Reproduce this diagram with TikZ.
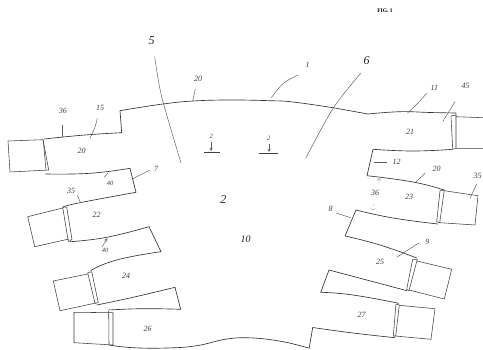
\documentclass[tikz,border=0pt]{standalone}
\usepackage{fontspec}
\setmainfont{Liberation Serif}
\tikzset{
  wall/.style={draw=black!80,line width=0.65pt,line join=round},
  box/.style={draw=black!75,line width=0.55pt,line join=round},
  lead/.style={draw=black!65,line width=0.45pt},
  faint/.style={draw=black!40,line width=0.4pt},
  hand/.style={inner sep=0pt,font=\itshape\fontsize{8}{8}\selectfont,text=black!75},
  big/.style={inner sep=0pt,font=\itshape\fontsize{12}{12}\selectfont,text=black!85},
  tiny/.style={inner sep=0pt,font=\itshape\fontsize{6.5}{6.5}\selectfont,text=black!75}
}
\begin{document}
\begin{tikzpicture}[x=1pt,y=-1pt]
\useasboundingbox[fill=white] (0,0) rectangle (483,350);
% main outline, top
\draw[wall] plot[smooth,tension=0.8] coordinates {(44,139) (85,135) (121.7,132.7)} -- (120,110.7) -- (130,109);
\draw[wall] plot[smooth,tension=0.7] coordinates {(130,109) (163,104) (193,101) (230,100) (270,100.7) (293,102) (333,107.7)} -- (368,114);
\draw[wall] plot[smooth,tension=0.7] coordinates {(368,114) (400,111.7) (430,112.5) (456,113)};
% right side channels
\draw[wall] plot[smooth,tension=0.8] coordinates {(452.7,149.3) (413,151) (373,149.3)} -- (367,175.7);
\draw[wall] plot[smooth,tension=0.8] coordinates {(367,175.7) (413,182) (444,190)};
\draw[wall] plot[smooth,tension=0.8] coordinates {(438,224) (393,218) (356,210)} -- (345,236);
\draw[wall] plot[smooth,tension=0.8] coordinates {(345,236) (380,245) (416.7,258)};
\draw[wall] plot[smooth,tension=0.8] coordinates {(407,290.7) (366.7,280) (329,270)} -- (320.7,292.3);
\draw[wall] plot[smooth,tension=0.8] coordinates {(320.7,292.3) (353,295) (399,303.3)};
% bottom
\draw[wall] plot[smooth,tension=0.8] coordinates {(395,337.7) (353,333) (312.7,327.5)} -- (309.2,348.2);
\draw[wall] plot[smooth,tension=0.7] coordinates {(309.2,348.2) (283,341.7) (253,338) (227,339) (197,345.7) (167,348) (133,347.7) (108.7,345)};
% left side channels
\draw[wall] plot[smooth,tension=0.8] coordinates {(108.7,310) (143,308.7) (180.7,309.3)} -- (175,287.3);
\draw[wall] plot[smooth,tension=0.8] coordinates {(175,287.3) (133,297.3) (96.7,305)};
\draw[wall] plot[smooth,tension=0.9] coordinates {(90.7,270.7) (116.7,260) (161,251.7)} -- (149,226.7);
\draw[wall] plot[smooth,tension=0.8] coordinates {(149,226.7) (106.7,237.3) (70,241.7)};
\draw[wall] plot[smooth,tension=0.8] coordinates {(63,207) (80,202.7) (136,192.3)} -- (130,168.3);
\draw[wall] plot[smooth,tension=0.8] coordinates {(130,168.3) (90,173.3) (45.3,174)};
% left boxes and plates
\draw[box] (8,141) -- (43,139.7) -- (48.7,170) -- (10,172) -- cycle;
\draw[box] (43.3,140) -- (46,170.5);
\draw[box] (62.7,208) -- (27.7,216.7) -- (34.7,246.7) -- (69,239);
\draw[box] (62.7,207.3) -- (68.3,241.7) (66.7,207) -- (72,239.3) (62.7,207.3) -- (66.7,207) (68.3,241.7) -- (72,239.3);
\draw[box] (87.7,274) -- (53.3,281) -- (60,310.7) -- (96,303);
\draw[box] (87.7,272.7) -- (95,303.3) (91.7,271.7) -- (98.3,302.7) (87.7,272.7) -- (91.7,271.7) (95,303.3) -- (98.3,302.7);
\draw[box] (74,312.3) -- (113,312.7) -- (113,345) -- (74,342.7) -- cycle;
\draw[box] (108.7,311) -- (109,344);
% right boxes and plates
\draw[box] (456,116.7) -- (483,117.7) (456,148.3) -- (483,148.3);
\draw[box] (451,116) -- (452.7,149.3) -- (456,148.3) -- (456,113.3) (451,116) -- (456,115);
\draw[box] (444,190.7) -- (478,195.7) -- (475,225) -- (440,222.7);
\draw[box] (440,190.7) -- (436.7,221.7) -- (439.7,222.7) -- (444.3,190) -- cycle;
\draw[box] (417,261) -- (451.7,269.3) -- (444.3,299) -- (409,290);
\draw[box] (412.7,259.3) -- (406.7,289.3) -- (409,290.7) -- (417.3,259.3) -- cycle;
\draw[box] (399,305.3) -- (435,308.7) -- (431,339.3) -- (395,336);
\draw[box] (396,304) -- (393.3,336) -- (395.7,336) -- (399.3,305) -- cycle;
% long section lines
\draw[lead] plot[smooth,tension=0.5] coordinates {(154.7,56.7) (161.7,96.7) (181,163)};
\draw[lead] plot[smooth,tension=0.5] coordinates {(360.7,73.3) (333.3,108) (305.7,158.3)};
% leaders
\draw[lead] (131.7,179.3) -- (150,170);
\draw[lead] (62.3,125) -- (62.3,136.7);
\draw[lead] plot[smooth] coordinates {(97.3,118.3) (95,127) (90,138.3)};
\draw[lead] (107.7,173.3) -- (104.3,177.3);
\draw[lead] (77.3,195) -- (80.3,202.3);
\draw[lead,-stealth] (102,247) -- (107.3,238.3);
\draw[lead] (195.3,89) -- (192.7,101);
\draw[lead] plot[smooth] coordinates {(298.3,75) (283.3,83.3) (271.3,97.7)};
\draw[lead] plot[smooth] coordinates {(426.7,93.3) (418,103) (407.3,113.3)};
\draw[lead] (455,101.7) -- (442.7,121.7);
\draw[lead] (374.3,162.3) -- (387.3,162.3);
\draw[lead] (425,173.3) -- (415,182.7);
\draw[lead] (476.7,184) -- (470,198.3);
\draw[faint] (379,184) -- (379,180) (377,180.5) -- (379,178.5) -- (381,180.5);
\draw[faint] (373.5,204) -- (373.5,206) (370.5,208.5) -- (373,210) -- (375.5,208.5);
\draw[lead] (336.7,213.3) -- (350.7,217.7);
\draw[lead] (419.3,242.7) -- (396.7,257.3);
% section marks
\draw[lead,-stealth] (211,142.3) -- (211,151);
\draw[box] (204,152.7) -- (220,152.7);
\draw[lead,-stealth] (269,144) -- (269,152);
\draw[box] (259,153.3) -- (277.7,153.3);
% labels
\node[inner sep=0pt,font=\bfseries\fontsize{5.5}{5.5}\selectfont] (fig) at (385,11) {FIG. 1};
\node[big] (n5) at (151.7,40.7) {5};
\node[big] (n6) at (366.7,60.7) {6};
\node[hand] (n1) at (307.7,65) {1};
\node[hand] (n20a) at (198,79.3) {20};
\node[hand] (n36) at (63,110.7) {36};
\node[hand] (n15) at (100,108) {15};
\node[hand] (n20b) at (81.7,151) {20};
\node[hand] (n7) at (156,169) {7};
\node[tiny] (n40) at (110,183.3) {40};
\node[hand] (n35a) at (71,191) {35};
\node[hand] (n22) at (96.7,215) {22};
\node[tiny] (n60) at (105,250.7) {40};
\node[hand] (n24) at (126,276) {24};
\node[hand] (n26) at (147.7,329) {26};
\node[tiny] (s1) at (211.3,136.7) {2};
\node[tiny] (s2) at (268.7,138.3) {2};
\node[big] (n2) at (223.3,200) {2};
\node[big,font=\itshape\fontsize{10}{10}\selectfont] (n10) at (245.7,239.3) {10};
\node[hand] (n11) at (434.3,88.3) {11};
\node[hand] (n45) at (465.7,85.7) {45};
\node[hand] (n21) at (410,131.7) {21};
\node[hand] (n12) at (396.7,162.3) {12};
\node[hand] (n20c) at (436.7,169) {20};
\node[hand] (n35b) at (477.7,176) {35};
\node[hand] (n23) at (409,196.7) {23};
\node[hand] (n36b) at (375,192.7) {36};
\node[hand] (n8) at (330.7,209.3) {8};
\node[hand] (n9) at (427.3,241.7) {9};
\node[hand] (n25) at (380,261.7) {25};
\node[hand] (n27) at (361.7,315) {27};
\end{tikzpicture}
\end{document}
